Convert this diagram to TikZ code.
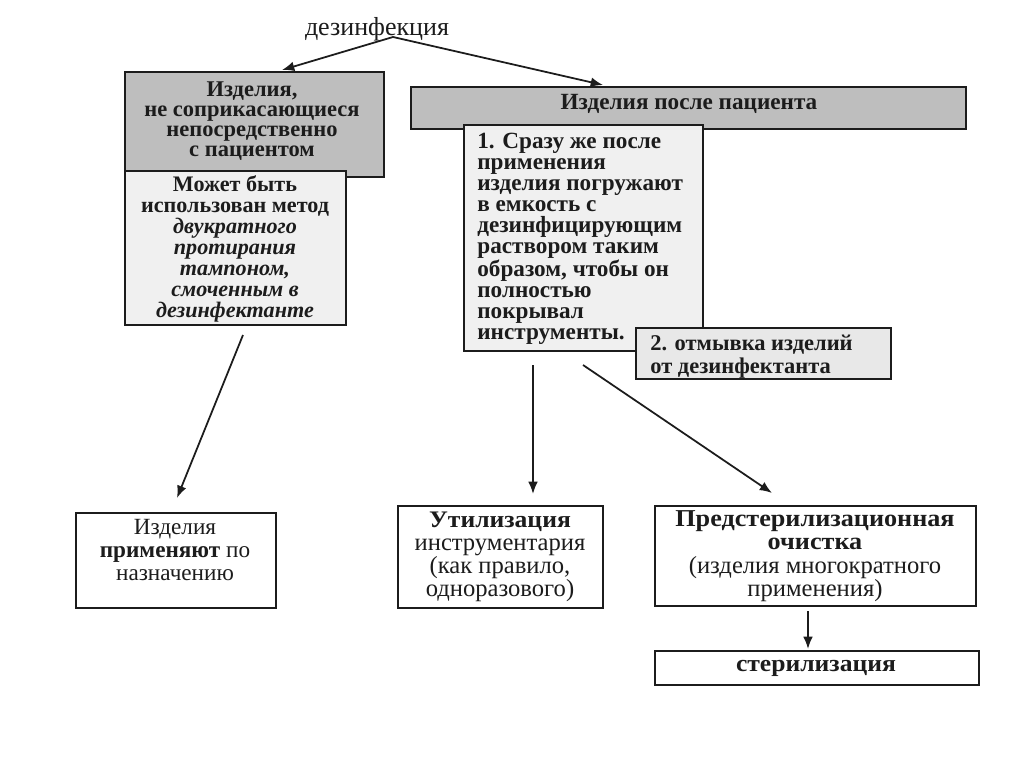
\documentclass[tikz,border=0pt]{standalone}
\usepackage{fontspec}
\setmainfont{Liberation Serif}
\newfontfamily\widebold[FakeStretch=1.08]{Liberation Serif Bold}
\usetikzlibrary{arrows.meta}
\definecolor{darkbox}{HTML}{BEBEBE}
\definecolor{lightbox}{HTML}{F0F0F0}
\definecolor{lightbox2}{HTML}{E8E8E8}
\definecolor{ink}{HTML}{1C1C1C}
\tikzset{
  box/.style={draw=ink, line width=1pt, inner sep=0pt, anchor=north west},
  gbox/.style={box, fill=darkbox},
  lbox/.style={box, fill=lightbox},
  wbox/.style={box, fill=white},
  txt/.style={inner sep=0pt, align=center, text=ink},
  arr/.style={draw=ink, line width=1pt, -{Latex[length=7pt,width=5.5pt]}},
}
\begin{document}
\begin{tikzpicture}[x=0.02cm,y=-0.02cm]
\useasboundingbox[fill=white] (0,0) rectangle (1024,767);
% title
\node[txt, font=\fontsize{14.8}{15}\selectfont] (title) at (377,29) {дезинфекция};
\coordinate (src) at (393,37);
% left column
\node[gbox, minimum width=259*0.02cm, minimum height=105*0.02cm] (a) at (124,71) {};
\node[txt, font=\bfseries\fontsize{12.8}{11.4}\selectfont] (at) at (252,121) {Изделия,\\не соприкасающиеся\\непосредственно\\с пациентом};
\node[lbox, minimum width=221*0.02cm, minimum height=154*0.02cm] (b) at (124,170) {};
\node[txt, font=\bfseries\fontsize{12.6}{11.9}\selectfont] (bt) at (235,249) {Может быть\\использован метод\\\itshape двукратного\\\itshape протирания\\\itshape тампоном,\\\itshape смоченным в\\\itshape дезинфектанте};
% right column
\node[gbox, minimum width=555*0.02cm, minimum height=42*0.02cm] (c) at (410,86) {};
\node[txt, font=\bfseries\fontsize{13.2}{14}\selectfont] (ct) at (689,104) {Изделия после пациента};
\node[lbox, minimum width=239*0.02cm, minimum height=226*0.02cm] (d) at (463,124) {};
\node[txt, align=left, anchor=north west, font=\bfseries\fontsize{13.2}{11.9}\selectfont] (dt) at (477,133) {1. Сразу же после\\применения\\изделия погружают\\в емкость с\\дезинфицирующим\\раствором таким\\образом, чтобы он\\полностью\\покрывал\\инструменты.};
\node[box, fill=lightbox2, minimum width=255*0.02cm, minimum height=51*0.02cm] (e) at (635,327) {};
\node[txt, align=left, anchor=north west, font=\bfseries\fontsize{12.8}{13}\selectfont] (et) at (650,335) {2. отмывка изделий\\от дезинфектанта};
% bottom boxes
\node[wbox, minimum width=200*0.02cm, minimum height=95*0.02cm] (f) at (75,512) {};
\node[txt, font=\fontsize{13.2}{13}\selectfont] (ft) at (175,550) {Изделия\\\textbf{применяют} по\\назначению};
\node[wbox, minimum width=205*0.02cm, minimum height=102*0.02cm] (g) at (397,505) {};
\node[txt, font=\fontsize{14}{13.2}\selectfont] (gt) at (500,557) {{\widebold\fontsize{13.5}{13.2}\selectfont Утилизация}\\инструментария\\(как правило,\\одноразового)};
\node[wbox, minimum width=321*0.02cm, minimum height=100*0.02cm] (h) at (654,505) {};
\node[txt, font=\fontsize{14}{13.4}\selectfont] (ht) at (815,556) {{\widebold\fontsize{13.8}{13.4}\selectfont Предстерилизационная}\\{\widebold\fontsize{13.8}{13.4}\selectfont очистка}\\(изделия многократного\\применения)};
\node[wbox, minimum width=324*0.02cm, minimum height=34*0.02cm] (i) at (654,650) {};
\node[txt, font=\widebold\fontsize{13.5}{14}\selectfont] (it) at (816,668) {стерилизация};
% connector end points
\coordinate (aIn) at (282,70);
\coordinate (cIn) at (603,85);
\coordinate (bOut) at (243,335);
\coordinate (fIn) at (177,498);
\coordinate (dOut1) at (533,365);
\coordinate (gIn) at (533,494);
\coordinate (dOut2) at (583,365);
\coordinate (hIn) at (772,493);
\coordinate (hOut) at (808,611);
\coordinate (iIn) at (808,649);
\draw[arr] (src) -- (aIn);
\draw[arr] (src) -- (cIn);
\draw[arr] (bOut) -- (fIn);
\draw[arr] (dOut1) -- (gIn);
\draw[arr] (dOut2) -- (hIn);
\draw[arr] (hOut) -- (iIn);
\end{tikzpicture}
\end{document}
